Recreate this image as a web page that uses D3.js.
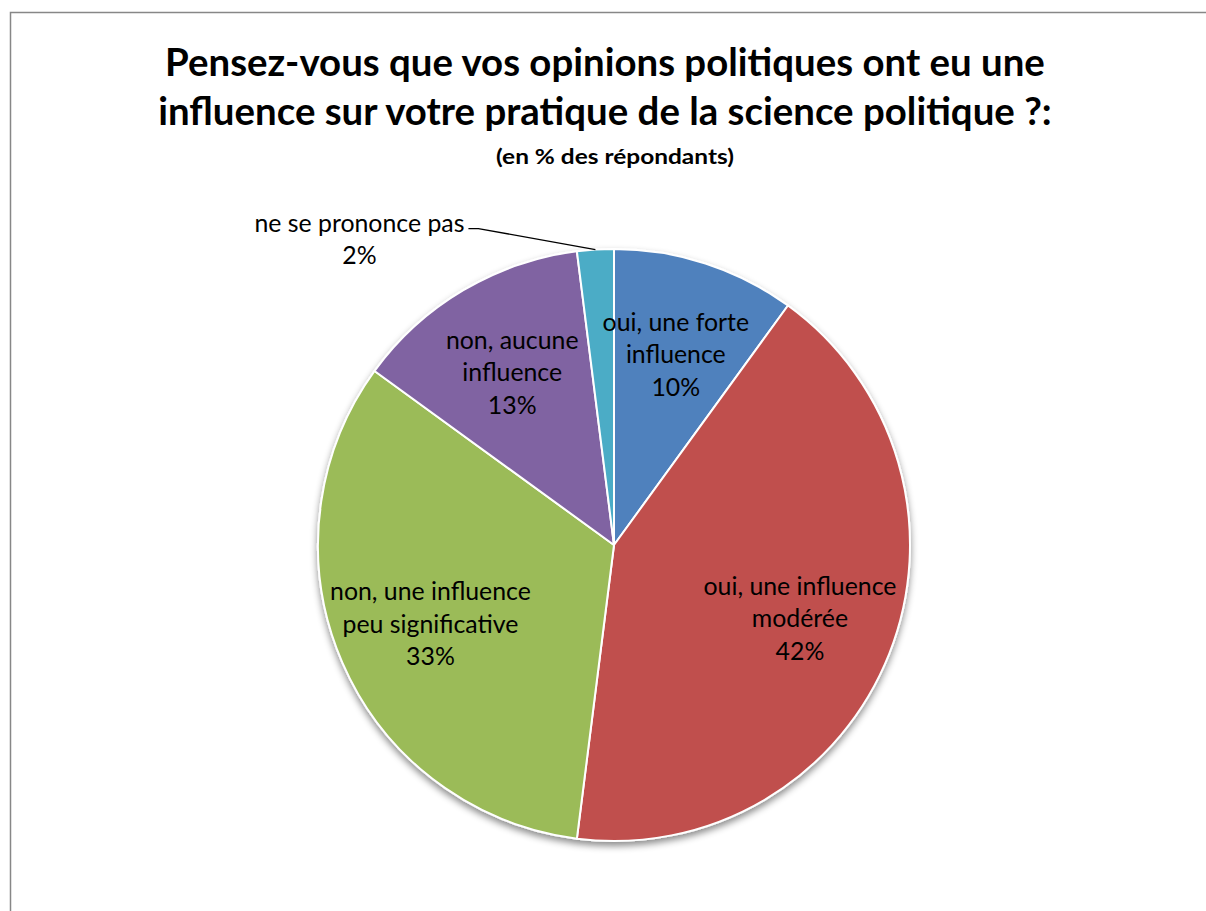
<!DOCTYPE html>
<html>
<head>
<meta charset="utf-8">
<script src="https://cdn.jsdelivr.net/npm/d3@7"></script>
<style>
  html, body { margin: 0; padding: 0; background: #fff; }
  svg { display: block; }
</style>
</head>
<body>
<svg id="chart" width="1206" height="911"></svg>
<script>
// Survey answers, in drawing order (clockwise from 12 o'clock)
const categories = [
  "oui, une forte influence",
  "oui, une influence modérée",
  "non, une influence peu significative",
  "non, aucune influence",
  "ne se prononce pas"
];
const values = [10, 42, 33, 13, 2];
// Line breaks used for the slice labels
const labelLines = [
  ["oui, une forte", "influence"],
  ["oui, une influence", "modérée"],
  ["non, une influence", "peu significative"],
  ["non, aucune", "influence"],
  ["ne se prononce pas"]
];
const colors = ["#4F81BD", "#C0504D", "#9BBB59", "#8064A2", "#4BACC6"];
const titleLines = [
  "Pensez-vous que vos opinions politiques ont eu une",
  "influence sur votre pratique de la science politique ?:"
];
const subtitle = "(en % des répondants)";

const W = 1206, H = 911;
const FONT = "Lato, 'Open Sans', 'Liberation Sans', sans-serif";
const svg = d3.select("#chart");

// Drop shadow under the pie
const defs = svg.append("defs");
const f = defs.append("filter").attr("id", "shadow")
  .attr("x", "-10%").attr("y", "-10%").attr("width", "120%").attr("height", "125%");
f.append("feDropShadow").attr("dx", 0).attr("dy", 4).attr("stdDeviation", 3.5)
  .attr("flood-color", "#000").attr("flood-opacity", 0.45);

// Chart frame
svg.append("rect")
  .attr("x", 10.5).attr("y", 12.5)
  .attr("width", W + 20).attr("height", H + 20)
  .attr("fill", "#fff").attr("stroke", "#878787").attr("stroke-width", 1.5);

// Width of a text at a given size and weight
function measure(text, weight, size) {
  const t = svg.append("text").attr("font-family", FONT)
    .attr("font-weight", weight).attr("font-size", size).text(text);
  const w = t.node().getComputedTextLength();
  t.remove();
  return w;
}

// Multi-line centred text block, narrowed horizontally by factor sx
function textBlock(parent, x, y, lines, size, weight, gap, sx) {
  const g = parent.append("g").attr("transform", `translate(${x},${y}) scale(${sx},1)`);
  const t = g.append("text")
    .attr("text-anchor", "middle")
    .attr("font-family", FONT).attr("font-weight", weight)
    .attr("font-size", size).attr("fill", "#000");
  lines.forEach((s, k) => t.append("tspan").attr("x", 0).attr("y", k * gap).text(s));
  return g;
}

// Title
const titleSize = 37.5;
const titleSx = 880 / measure(titleLines[0], "bold", titleSize);
textBlock(svg, W / 2 + 2, 76, titleLines, titleSize, "bold", 49, titleSx);
const subSize = 20;
const subSx = 238 / measure(subtitle, "bold", subSize);
textBlock(svg, W / 2 + 12, 164, [subtitle], subSize, "bold", 0, subSx);

// Pie
const cx = 614, cy = 545, R = 296;
const pie = d3.pie().sort(null).value(d => d)(values);
const arc = d3.arc().innerRadius(0).outerRadius(R);
const labelArc = d3.arc().innerRadius(200).outerRadius(200);

const g = svg.append("g").attr("transform", `translate(${cx},${cy})`);
g.append("g").attr("filter", "url(#shadow)")
  .selectAll("path").data(pie).join("path")
  .attr("d", arc)
  .attr("fill", (d, i) => colors[i])
  .attr("stroke", "#fff").attr("stroke-width", 2).attr("stroke-linejoin", "round");

const labelSize = 25.5;
const labelSx = 193 / measure("oui, une influence", "normal", labelSize);
const lineGap = 32.5;

pie.forEach((d, i) => {
  const lines = labelLines[i].concat([values[i] + "%"]);
  let lx, ly;
  if (i < 4) {
    [lx, ly] = labelArc.centroid(d);
  } else {
    // Small slice: label outside with a leader line
    const mid = (d.startAngle + d.endAngle) / 2;
    const px = R * Math.sin(mid), py = -R * Math.cos(mid);
    const elbowX = px - 117, elbowY = py - 21;
    g.append("path")
      .attr("d", `M${px},${py}L${elbowX},${elbowY}L${elbowX - 10},${elbowY}`)
      .attr("fill", "none").attr("stroke", "#000").attr("stroke-width", 1.3);
    lx = elbowX - 119;
    ly = elbowY + 11;
  }
  const y0 = ly - (lines.length - 1) * lineGap / 2 + labelSize * 0.33;
  textBlock(g, lx, y0, lines, labelSize, "normal", lineGap, labelSx);
});
</script>
</body>
</html>
